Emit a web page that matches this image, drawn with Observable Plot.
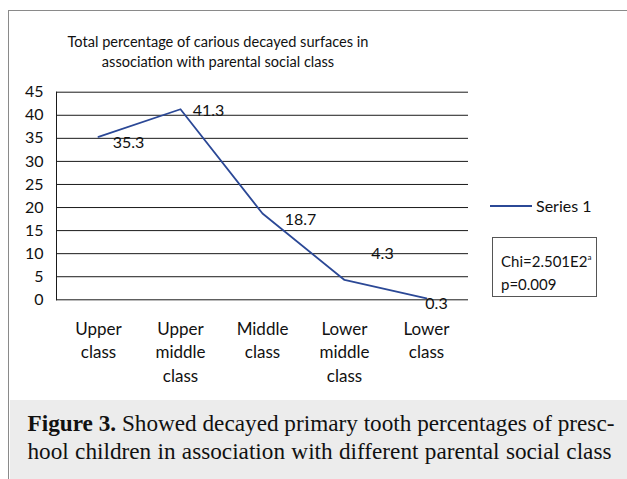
<!DOCTYPE html>
<html><head><meta charset="utf-8">
<script src="https://cdn.jsdelivr.net/npm/d3@7"></script>
<script src="https://cdn.jsdelivr.net/npm/@observablehq/plot@0.6"></script>
<style>
html,body{margin:0;padding:0;background:#fff;}
#wrap{position:relative;width:627px;height:479px;overflow:hidden;font-family:Lato,sans-serif;}
#frame{position:absolute;left:8px;top:10px;width:640px;height:500px;border-left:1.5px solid #8a8a8a;border-top:1.5px solid #8a8a8a;}
#chart{position:absolute;left:0;top:0;}
#title{position:absolute;left:0;width:436px;top:32px;text-align:center;font-size:14.6px;line-height:20px;color:#111;}
#leg{position:absolute;left:490px;top:196px;font-size:16px;color:#111;display:flex;align-items:center;}
#leg span.sw{display:inline-block;width:42px;height:2px;background:#2b4896;margin-right:4px;}
#box{position:absolute;left:492px;top:237px;width:105px;height:60px;border:1px solid #555;box-sizing:border-box;font-size:15px;line-height:23px;padding:8px 0 0 8px;color:#111;white-space:nowrap;}
#box sup{font-size:8px;vertical-align:7px;}
#cap{position:absolute;left:9.5px;top:400px;width:620px;height:79px;background:#ececec;}
#cap div{position:absolute;left:18px;width:584px;font-family:"Liberation Serif",serif;font-size:20px;text-align:justify;text-align-last:justify;color:#111;white-space:nowrap;}
</style></head>
<body><div id="wrap">
<div id="frame"></div>
<div id="chart"></div>
<div id="title"></div>
<div id="leg"><span class="sw"></span><span id="legtxt"></span></div>
<div id="box"></div>
<div id="cap"><div id="c1" style="top:10px"></div><div id="c2" style="top:38px"></div></div>
</div>
<script>
const categories = ["Upper class", "Upper middle class", "Middle class", "Lower middle class", "Lower class"];
const tickLabels = ["Upper\nclass", "Upper\nmiddle\nclass", "Middle\nclass", "Lower\nmiddle\nclass", "Lower\nclass"];
const values = [35.3, 41.3, 18.7, 4.3, 0.3];
const yTicks = [0, 5, 10, 15, 20, 25, 30, 35, 40, 45];
const seriesName = "Series 1";
const titleLines = ["Total percentage of carious decayed surfaces in", "association with parental social class"];
const statLines = ["Chi=2.501E2", "p=0.009"];
const captionBold = "Figure 3.";
const captionLines = [" Showed decayed primary tooth percentages of presc-", "hool children in association with different parental social class"];

const data = categories.map((c, i) => ({cat: c, v: values[i]}));
const labelFor = new Map(categories.map((c, i) => [c, tickLabels[i]]));
const offsets = [[30, 6], [28, 2], [38, 6], [38, -26], [10, 5]];
const blue = "#2b4896";
const fs = 16;

const plot = Plot.plot({
  width: 627, height: 400,
  marginLeft: 56, marginRight: 159, marginTop: 91.7, marginBottom: 100.7,
  style: {fontFamily: "Lato, sans-serif", fontSize: fs + "px", color: "#111", background: "transparent"},
  x: {type: "point", domain: categories, padding: 0.5},
  y: {domain: [0, 45]},
  marks: [
    Plot.ruleY(yTicks, {stroke: "#1a1a1a", strokeWidth: 1}),
    Plot.frame({anchor: "left", stroke: "#1a1a1a"}),
    Plot.axisY({ticks: yTicks, tickSize: 0, tickPadding: 13, label: null, fontSize: fs}),
    Plot.axisX({tickSize: 0, tickPadding: 18, label: null, tickFormat: d => labelFor.get(d), lineHeight: 1.4, fontSize: 17}),
    Plot.line(data, {x: "cat", y: "v", stroke: blue, strokeWidth: 1.8}),
    ...data.map((d, i) => Plot.text([d], {x: "cat", y: "v", text: d => String(d.v), dx: offsets[i][0], dy: offsets[i][1], fontSize: fs, fill: "#111"}))
  ]
});
document.getElementById("chart").appendChild(plot);
document.getElementById("title").innerHTML = titleLines.join("<br>");
document.getElementById("legtxt").textContent = seriesName;
document.getElementById("box").innerHTML = statLines[0] + "<sup>a</sup><br>" + statLines[1];
const c1 = document.getElementById("c1"), c2 = document.getElementById("c2");
c1.innerHTML = "<b>" + captionBold + "</b>" + captionLines[0];
c2.textContent = captionLines[1];
// size caption font so the longer line naturally fills the justified width
const ctx = document.createElement("canvas").getContext("2d");
ctx.font = '20px "Liberation Serif"';
const w20 = ctx.measureText(captionLines[1]).width;
const capFs = Math.min(24, 20 * 580 / w20);
c1.style.fontSize = c2.style.fontSize = capFs + "px";
</script>
</body></html>
